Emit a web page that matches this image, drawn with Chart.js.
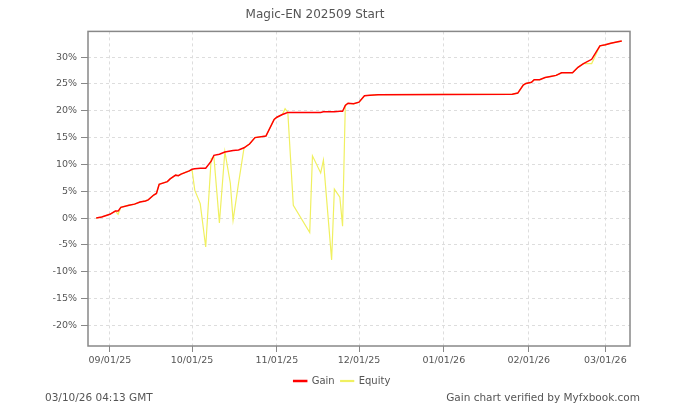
<!DOCTYPE html>
<html>
<head>
<meta charset="utf-8">
<script src="https://cdn.jsdelivr.net/npm/chart.js@4"></script>
<style>
  html, body { margin: 0; padding: 0; background: #fff; }
  #wrap { position: relative; width: 684px; height: 407px; }
</style>
</head>
<body>
<div id="wrap"><canvas id="gainChart" width="684" height="407"></canvas></div>
<script>
// dates of the data points (daily closes)
const dates = [
    '2025-08-27', '2025-08-29', '2025-09-01', '2025-09-03', '2025-09-04', '2025-09-05',
    '2025-09-08', '2025-09-10', '2025-09-12', '2025-09-14', '2025-09-15', '2025-09-17',
    '2025-09-18', '2025-09-19', '2025-09-22', '2025-09-23', '2025-09-25', '2025-09-26',
    '2025-09-27', '2025-09-30', '2025-10-01', '2025-10-02', '2025-10-04', '2025-10-06',
    '2025-10-08', '2025-10-09', '2025-10-11', '2025-10-13', '2025-10-15', '2025-10-16',
    '2025-10-18', '2025-10-20', '2025-10-22', '2025-10-24', '2025-10-28', '2025-10-31',
    '2025-11-01', '2025-11-03', '2025-11-04', '2025-11-05', '2025-11-07', '2025-11-13',
    '2025-11-14', '2025-11-17', '2025-11-18', '2025-11-21', '2025-11-22', '2025-11-24',
    '2025-11-25', '2025-11-26', '2025-11-27', '2025-11-29', '2025-12-01', '2025-12-03',
    '2025-12-05', '2025-12-08', '2026-01-26', '2026-01-28', '2026-01-30', '2026-01-31',
    '2026-02-02', '2026-02-03', '2026-02-05', '2026-02-07', '2026-02-09', '2026-02-11',
    '2026-02-13', '2026-02-17', '2026-02-19', '2026-02-21', '2026-02-24', '2026-02-27',
    '2026-03-01', '2026-03-03', '2026-03-06', '2026-03-07'
];

const gain = [
    0.0, 0.2, 0.7, 1.3, 1.3, 2.0,
    2.4, 2.6, 3.0, 3.2, 3.4, 4.3,
    4.6, 6.3, 6.8, 7.3, 8.0, 7.9,
    8.2, 8.8, 9.1, 9.2, 9.3, 9.3,
    10.6, 11.7, 11.9, 12.3, 12.5, 12.6,
    12.7, 13.1, 13.8, 15.0, 15.3, 18.4,
    18.8, 19.3, 19.5, 19.7, 19.7, 19.7,
    19.7, 19.7, 19.8, 19.8, 19.8, 19.9,
    19.9, 21.0, 21.4, 21.3, 21.6, 22.8,
    22.9, 23.0, 23.1, 23.3, 24.8, 25.1,
    25.3, 25.8, 25.8, 26.2, 26.4, 26.6,
    27.1, 27.1, 28.1, 28.8, 29.6, 32.1,
    32.3, 32.6, 32.9, 33.0
];

const equity = [
    0.0, 0.2, 0.7, 1.3, 0.7, 2.0,
    2.4, 2.6, 3.0, 3.2, 3.4, 4.3,
    4.6, 6.3, 6.8, 7.3, 8.0, 7.9,
    8.2, 8.8, 9.0, 5.2, 2.7, -5.4,
    11.1, 11.4, -0.9, 12.4, 6.5, -0.4,
    6.5, 13.1, 13.8, 15.0, 15.3, 18.4,
    18.8, 19.3, 20.4, 19.7, 2.4, -2.7,
    11.6, 8.4, 10.8, -7.8, 5.4, 3.9,
    -1.5, 21.1, 21.4, 21.3, 21.6, 22.8,
    22.9, 23.0, 23.1, 23.3, 24.8, 25.1,
    25.3, 25.8, 25.8, 26.2, 26.4, 26.6,
    27.1, 27.1, 28.1, 28.8, 28.8, 32.1,
    32.3, 32.6, 32.9, 33.0
];

const monthTicks = ['2025-09-01', '2025-10-01', '2025-11-01', '2025-12-01', '2026-01-01', '2026-02-01', '2026-03-01'];
const monthLabels = ['09/01/25', '10/01/25', '11/01/25', '12/01/25', '01/01/26', '02/01/26', '03/01/26'];
const yTicks = [-20, -15, -10, -5, 0, 5, 10, 15, 20, 25, 30];

const xStart = '2025-08-24';
const xEnd = '2026-03-10';
const yMin = -23.85;
const yMax = 34.8;

// day number counted from 1 Sep 2025
function dayNum(s) {
    const p = s.split('-').map(Number);
    return (Date.UTC(p[0], p[1] - 1, p[2]) - Date.UTC(2025, 8, 1)) / 864e5;
}

const FONT = 'DejaVu Sans, Verdana, sans-serif';
const TEXT = '#555';

const boxPlugin = {
    id: 'boxAndFooter',
    afterLayout(chart) {
        // legend is centred on the whole canvas, not on the area left of the right padding
        const lg = chart.legend;
        if (lg) {
            lg.left += 27;
            lg.right += 27;
        }
    },
    afterDraw(chart) {
        const { ctx, chartArea: a } = chart;
        ctx.save();
        ctx.strokeStyle = '#888';
        ctx.lineWidth = 1.5;
        ctx.strokeRect(a.left, a.top, a.right - a.left, a.bottom - a.top);

        ctx.fillStyle = TEXT;
        ctx.font = '10.5px ' + FONT;
        ctx.textBaseline = 'middle';
        ctx.textAlign = 'left';
        ctx.fillText('03/10/26 04:13 GMT', 45, 398);
        ctx.textAlign = 'right';
        ctx.fillText('Gain chart verified by Myfxbook.com', 640, 398);
        ctx.restore();
    }
};

const ctx = document.getElementById('gainChart').getContext('2d');
new Chart(ctx, {
    type: 'line',
    data: {
        datasets: [
            {
                label: 'Gain',
                data: dates.map((d, i) => ({ x: dayNum(d), y: gain[i] })),
                borderColor: '#ff0000',
                backgroundColor: '#ff0000',
                borderWidth: 1.5,
                pointRadius: 0,
                tension: 0
            },
            {
                label: 'Equity',
                data: dates.map((d, i) => ({ x: dayNum(d), y: equity[i] })),
                borderColor: '#f0f060',
                backgroundColor: '#f0f060',
                borderWidth: 1.2,
                pointRadius: 0,
                tension: 0
            }
        ]
    },
    options: {
        responsive: false,
        animation: false,
        layout: {
            padding: { left: 0, right: 54, top: 0, bottom: 11 }
        },
        plugins: {
            title: {
                display: true,
                text: 'Magic-EN 202509 Start',
                color: TEXT,
                font: { family: FONT, size: 12, weight: 'normal' },
                padding: { top: 8, bottom: 9 }
            },
            legend: {
                display: true,
                position: 'bottom',
                labels: {
                    color: TEXT,
                    font: { family: FONT, size: 10 },
                    boxWidth: 13,
                    boxHeight: 1,
                    padding: 6
                }
            },
            tooltip: { enabled: false }
        },
        scales: {
            x: {
                type: 'linear',
                min: dayNum(xStart),
                max: dayNum(xEnd),
                afterBuildTicks: (scale) => {
                    scale.ticks = monthTicks.map(d => ({ value: dayNum(d) }));
                },
                afterFit: (scale) => { scale.height = 24; },
                ticks: {
                    color: TEXT,
                    font: { family: FONT, size: 9.5 },
                    padding: 3,
                    maxRotation: 0,
                    autoSkip: false,
                    callback: (v, i) => monthLabels[i]
                },
                grid: {
                    color: '#dddddd',
                    tickBorderDash: [],
                    tickColor: '#888',
                    tickLength: 6
                },
                border: { display: false, dash: [3, 3] }
            },
            y: {
                min: yMin,
                max: yMax,
                afterBuildTicks: (scale) => {
                    scale.ticks = yTicks.map(v => ({ value: v }));
                },
                afterFit: (scale) => { scale.width = 88; },
                ticks: {
                    color: TEXT,
                    font: { family: FONT, size: 9.5 },
                    padding: 4,
                    callback: (v) => v + '%'
                },
                grid: {
                    color: '#dddddd',
                    tickBorderDash: [],
                    tickColor: '#888',
                    tickLength: 7
                },
                border: { display: false, dash: [3, 3] }
            }
        }
    },
    plugins: [boxPlugin]
});
</script>
</body>
</html>
